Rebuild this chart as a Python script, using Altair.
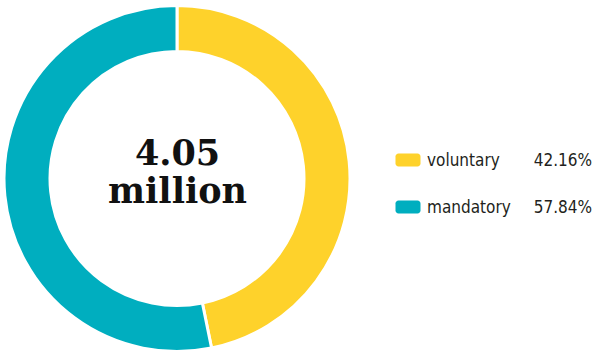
import altair as alt
import pandas as pd

# ---- data ----
categories = ["voluntary", "mandatory"]
pct_labels = ["42.16%", "57.84%"]
# angular share as drawn in the picture (yellow slice ends ~168 deg from top)
drawn_share = [46.8, 53.2]
colors = ["#FED22B", "#00AEBF"]
center_lines = ["4.05", "million"]

W, H = 595, 354
CX, CY = 177, 178.5

arc_df = pd.DataFrame({
    "cat": categories,
    "share": drawn_share,
    "order": list(range(len(categories))),
})

color_scale = alt.Scale(domain=categories, range=colors)

arcs = alt.Chart(arc_df).mark_arc(
    outerRadius=173, innerRadius=127, stroke="white", strokeWidth=3
).encode(
    theta=alt.Theta("share:Q", stack=True),
    color=alt.Color("cat:N", scale=color_scale, legend=None),
    order=alt.Order("order:Q"),
    x=alt.value(CX),
    y=alt.value(CY),
)

center_df = pd.DataFrame({"txt": center_lines, "ly": [165, 203]})
center = alt.Chart(center_df).mark_text(
    font="DejaVu Serif", fontWeight="bold", fontSize=35,
    align="center", baseline="alphabetic", color="#111111"
).encode(
    text="txt:N",
    x=alt.value(CX + 0.5),
    y=alt.Y("ly:Q", scale=None),
)

leg_df = pd.DataFrame({
    "cat": categories,
    "pct": pct_labels,
    "ly": [160 + 47 * i for i in range(len(categories))],
})
leg_font = "DejaVu Sans Condensed, DejaVu Sans, sans-serif"

swatch = alt.Chart(leg_df).mark_rect(
    cornerRadius=3, width=25, height=13
).encode(
    x=alt.value(408),
    y=alt.Y("ly:Q", scale=None),
    color=alt.Color("cat:N", scale=color_scale, legend=None),
)

labels = alt.Chart(leg_df).mark_text(
    font=leg_font, fontSize=17, align="left", baseline="middle", color="#231F20", dy=1
).encode(
    text="cat:N",
    x=alt.value(427),
    y=alt.Y("ly:Q", scale=None),
)

pcts = alt.Chart(leg_df).mark_text(
    font=leg_font, fontSize=17, align="right", baseline="middle", color="#231F20", dy=1
).encode(
    text="pct:N",
    x=alt.value(592),
    y=alt.Y("ly:Q", scale=None),
)

chart = alt.layer(arcs, center, swatch, labels, pcts).properties(
    width=W, height=H, padding=0, autosize=alt.AutoSizeParams(type="none"),
    background="white",
).configure_view(stroke=None)

chart.save("out.html", embed_options={"renderer": "svg", "actions": False})
